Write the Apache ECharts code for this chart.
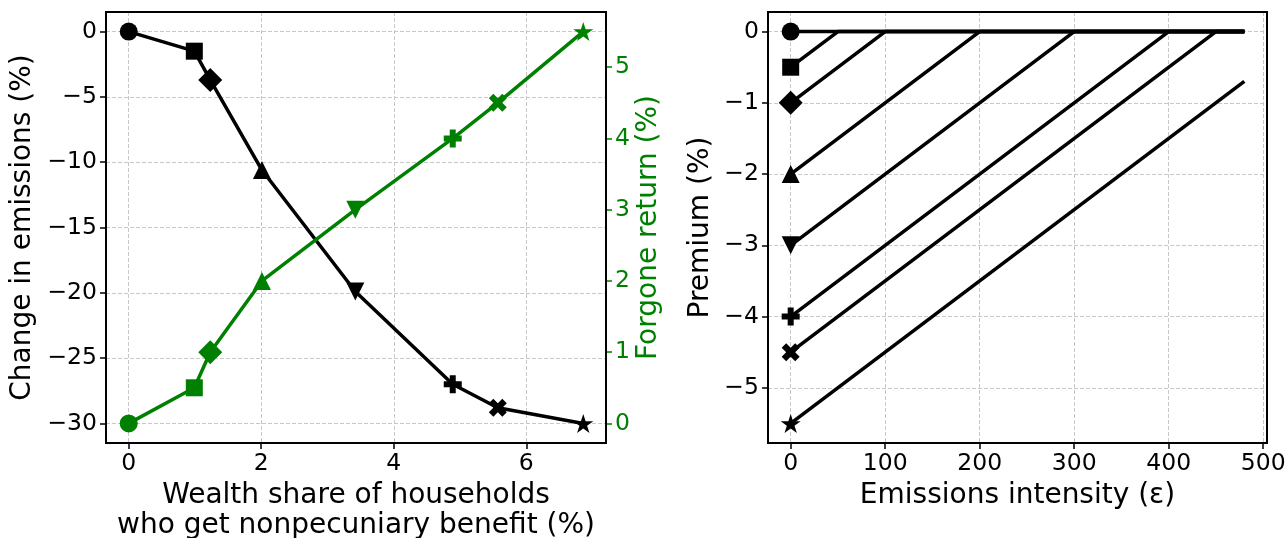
<!DOCTYPE html>
<html>
<head>
<meta charset="utf-8">
<script src="https://cdn.jsdelivr.net/npm/echarts@6/dist/echarts.min.js"></script>
<style>
  html, body { margin: 0; padding: 0; background: #fff; }
  #main { width: 1287px; height: 538px; }
</style>
</head>
<body>
<div id="main"></div>
<script>
// left panel: wealth share vs change in emissions / forgone return
const shareX = [0, 0.99, 1.23, 2.01, 3.42, 4.89, 5.57, 6.86];
const emissionsChange = [0, -1.5, -3.7, -10.6, -19.9, -27.0, -28.8, -30.0];
const forgoneReturn = [0, 0.5, 1.0, 2.0, 3.0, 4.0, 4.5, 5.5];

// right panel: premium at zero intensity, where each line reaches 0, value at the end
const premiumStart = [0, -0.5, -1, -2, -3, -4, -4.5, -5.5];
const zeroAtX = [0, 50, 100, 200, 300, 400, 450, null];
const lineEndX = 480;
const premiumEnd = [0, 0, 0, 0, 0, 0, 0, -0.7];

const leftTicksX = [0, 2, 4, 6];
const leftTicksY = [-30, -25, -20, -15, -10, -5, 0];
const greenTicks = [0, 1, 2, 3, 4, 5];
const rightTicksX = [0, 100, 200, 300, 400, 500];
const rightTicksY = [-5, -4, -3, -2, -1, 0];

// matplotlib-like markers
const markers = [
  { symbol: 'circle', size: 18 },
  { symbol: 'rect', size: 17 },
  { symbol: 'diamond', size: 24 },
  { symbol: 'triangle', size: 18 },
  { symbol: 'path://M0,0L2,0L1,2Z', size: 18 },
  { symbol: 'path://M2,0L4,0L4,2L6,2L6,4L4,4L4,6L2,6L2,4L0,4L0,2L2,2Z', size: 18 },
  { symbol: 'path://M1,0L2,1L3,0L4,1L3,2L4,3L3,4L2,3L1,4L0,3L1,2L0,1Z', size: 18 },
  { symbol: 'path://M100,0L122.45,69.1L195.1,69.1L136.33,111.8L158.8,180.9L100,138.2L41.2,180.9L63.67,111.8L4.9,69.1L77.55,69.1Z', size: 20 }
];

const FONT = 'DejaVu Sans';
const minus = v => String(v).replace('-', '\u2212');
const gridLine = { show: true, lineStyle: { color: '#c8c8c8', width: 1, type: [4, 2] } };
const noLine = { show: false, onZero: false };
const tick = (vals, color) => ({ show: true, inside: false, length: 6, customValues: vals, lineStyle: { color: color || '#000', width: 1.5 } });
const label = (vals, color, margin) => ({
  customValues: vals, color: color || '#000', fontFamily: FONT, fontSize: 23.5, margin: margin,
  formatter: minus
});
const nameStyle = (color) => ({ fontFamily: FONT, fontSize: 28, color: color || '#000', lineHeight: 30 });

function pointsWithMarkers(xs, ys) {
  return xs.map((x, i) => ({ value: [x, ys[i]], symbol: markers[i].symbol, symbolSize: markers[i].size, symbolKeepAspect: true }));
}

let series = [
  {
    type: 'line', xAxisIndex: 0, yAxisIndex: 0,
    data: pointsWithMarkers(shareX, emissionsChange),
    lineStyle: { color: '#000', width: 3.5 },
    itemStyle: { color: '#000' },
    z: 3
  },
  {
    type: 'line', xAxisIndex: 0, yAxisIndex: 1,
    data: pointsWithMarkers(shareX, forgoneReturn),
    lineStyle: { color: '#008000', width: 3.5 },
    itemStyle: { color: '#008000' },
    z: 4
  }
];

premiumStart.forEach((p, i) => {
  let data = [{ value: [0, p], symbol: markers[i].symbol, symbolSize: markers[i].size, symbolKeepAspect: true }];
  if (zeroAtX[i] !== null && zeroAtX[i] > 0) {
    data.push({ value: [zeroAtX[i], 0], symbol: 'none' });
  }
  data.push({ value: [lineEndX, premiumEnd[i]], symbol: 'none' });
  series.push({
    type: 'line', xAxisIndex: 1, yAxisIndex: 2,
    data: data,
    showAllSymbol: true,
    lineStyle: { color: '#000', width: 3.5 },
    itemStyle: { color: '#000' },
    z: 3
  });
});

const option = {
  animation: false,
  backgroundColor: '#fff',
  grid: [
    { left: 106, top: 12, width: 500, height: 431, outerBoundsMode: 'none', show: true, borderColor: '#000', borderWidth: 2, backgroundColor: 'transparent', z: 5 },
    { left: 768, top: 12, width: 499, height: 431, outerBoundsMode: 'none', show: true, borderColor: '#000', borderWidth: 2, backgroundColor: 'transparent', z: 5 }
  ],
  xAxis: [
    {
      type: 'value', gridIndex: 0, min: -0.343, max: 7.203, splitNumber: 4,
      axisLine: noLine, axisTick: tick(leftTicksX), axisLabel: label(leftTicksX, '#000', 9),
      splitLine: gridLine,
      name: 'Wealth share of households\nwho get nonpecuniary benefit (%)',
      nameLocation: 'middle', nameGap: 36, nameTextStyle: nameStyle()
    },
    {
      type: 'value', gridIndex: 1, min: -24, max: 504, splitNumber: 5,
      axisLine: noLine, axisTick: tick(rightTicksX), axisLabel: label(rightTicksX, '#000', 9),
      splitLine: gridLine,
      name: 'Emissions intensity (\u03b5)',
      nameLocation: 'middle', nameGap: 36, nameTextStyle: nameStyle()
    }
  ],
  yAxis: [
    {
      type: 'value', gridIndex: 0, min: -31.5, max: 1.5, splitNumber: 6, position: 'left',
      axisLine: noLine, axisTick: tick(leftTicksY), axisLabel: label(leftTicksY, '#000', 9),
      splitLine: gridLine,
      name: 'Change in emissions (%)',
      nameLocation: 'middle', nameGap: 68, nameTextStyle: nameStyle()
    },
    {
      type: 'value', gridIndex: 0, min: -0.275, max: 5.775, splitNumber: 5, position: 'right',
      axisLine: noLine, axisTick: tick(greenTicks, '#008000'), axisLabel: label(greenTicks, '#008000', 9),
      splitLine: { show: false },
      name: 'Forgone return (%)',
      nameLocation: 'middle', nameGap: 28, nameTextStyle: nameStyle('#008000')
    },
    {
      type: 'value', gridIndex: 1, min: -5.775, max: 0.275, splitNumber: 5,
      axisLine: noLine, axisTick: tick(rightTicksY), axisLabel: label(rightTicksY, '#000', 9),
      splitLine: gridLine,
      name: 'Premium (%)',
      nameLocation: 'middle', nameGap: 52, nameTextStyle: nameStyle()
    }
  ],
  series: series
};

const myChart = echarts.init(document.getElementById('main'), null, { renderer: 'canvas' });
myChart.setOption(option);
</script>
</body>
</html>
